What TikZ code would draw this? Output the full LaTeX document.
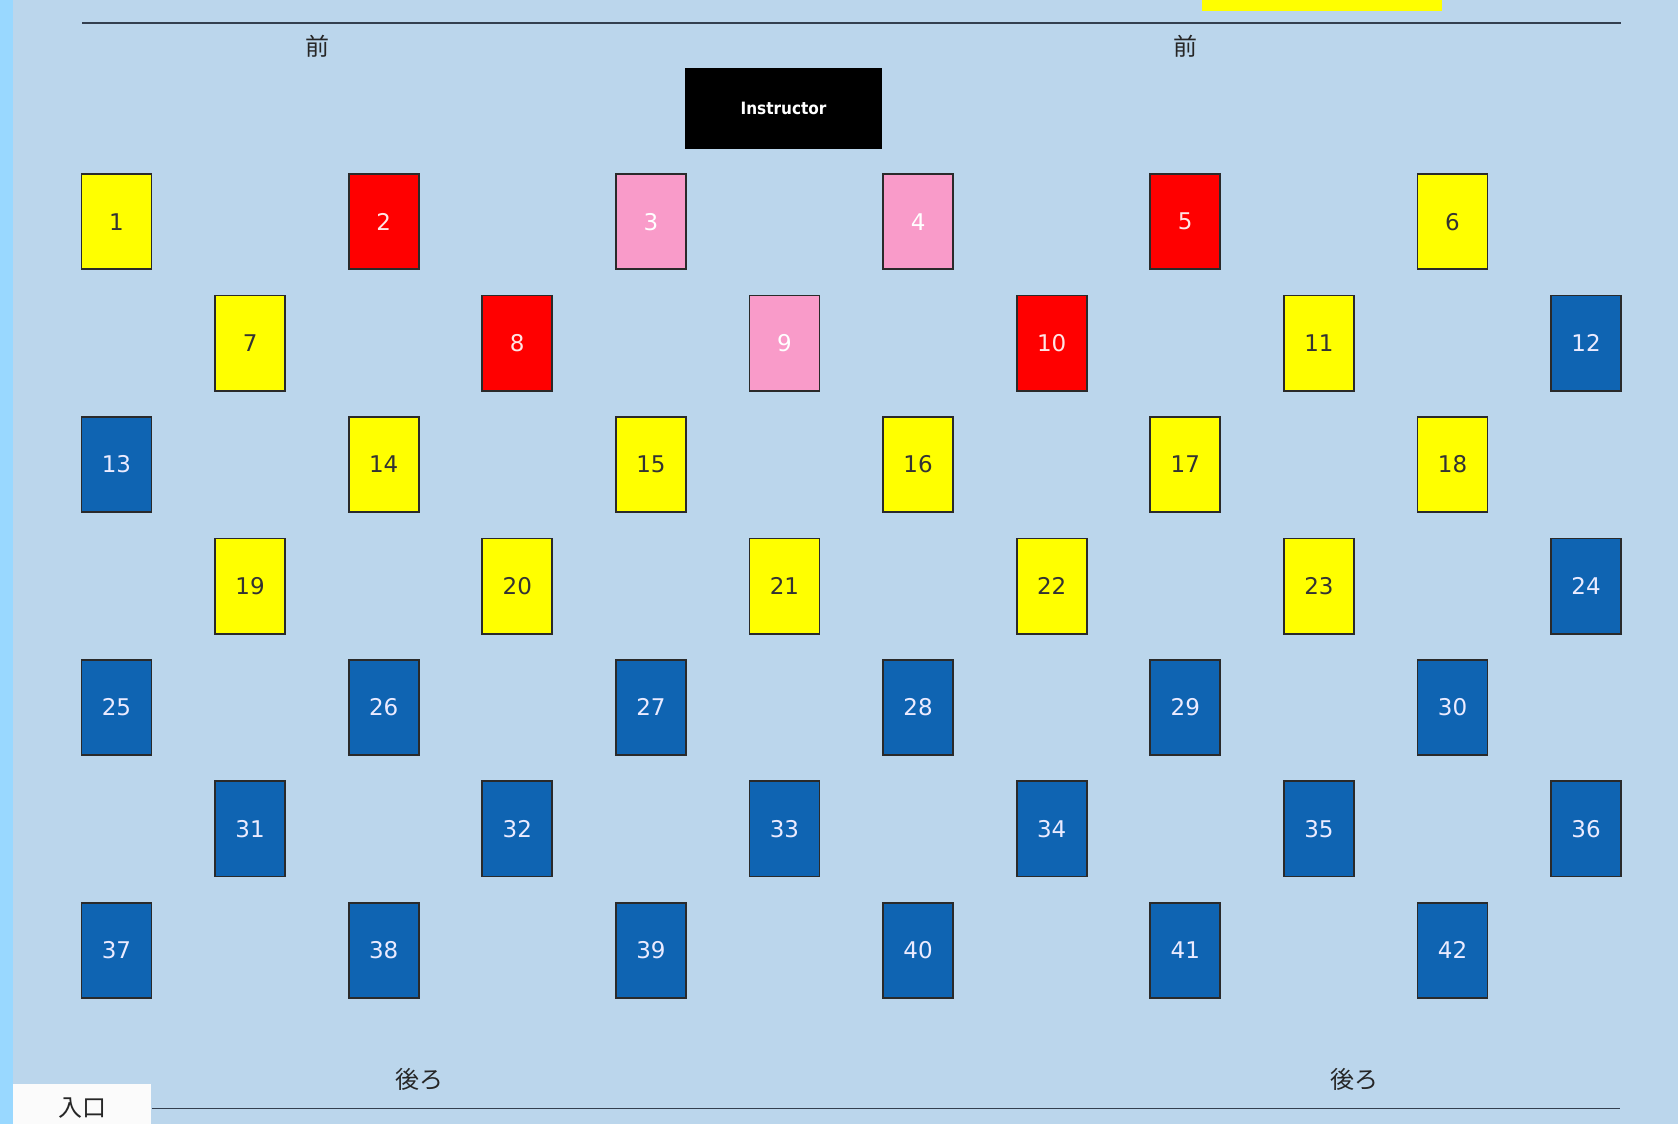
\documentclass[tikz,border=0pt]{standalone}
\usepackage{fontspec}
\setmainfont{DejaVu Sans}
\newfontfamily\cjk{Noto Sans CJK JP}
\newfontfamily\condfont{DejaVu Sans Condensed}
\definecolor{bgblue}{HTML}{BBD6EC}
\definecolor{stripblue}{HTML}{99D8FF}
\definecolor{seatyellow}{HTML}{FFFF00}
\definecolor{seatred}{HTML}{FF0000}
\definecolor{seatpink}{HTML}{F99BC9}
\definecolor{seatblue}{HTML}{0F64B2}
\definecolor{edgegray}{HTML}{2A2A2A}
\definecolor{linegray}{HTML}{333F4F}
\tikzset{
  x=0.5pt, y=-0.5pt,
  seat/.style={draw=edgegray, line width=0.9pt, minimum width=35pt, minimum height=47.6pt, inner sep=0pt, font=\fontsize{11.5}{14}\selectfont},
  seatY/.style={seat, fill=seatyellow, text=black!80},
  seatR/.style={seat, fill=seatred, text=white!90!red},
  seatP/.style={seat, fill=seatpink, text=white},
  seatB/.style={seat, fill=seatblue, text=white!92!blue},
  jlabel/.style={font=\cjk\fontsize{12}{14}\selectfont, text=black!85, inner sep=0pt},
}
\begin{document}
\begin{tikzpicture}
\useasboundingbox (0,0) rectangle (1678,1124);
\fill[bgblue] (0,0) rectangle (1678,1124);
\fill[stripblue] (0,0) rectangle (13,1124);
\fill[seatyellow] (1202,0) rectangle (1442,11);
\draw[linegray, line width=1pt] (82,23.3) -- (1621,23.3);
\draw[linegray, line width=0.8pt] (152,1108.5) -- (1620,1108.5);
\fill[white!97!gray] (13,1084) rectangle (151,1124);
\node[jlabel] (entrance) at (82,1108) {入口};
\node[jlabel] (front1) at (317,46) {前};
\node[jlabel] (front2) at (1185,46) {前};
\node[jlabel] (back1) at (419,1079) {後ろ};
\node[jlabel] (back2) at (1354,1079) {後ろ};
\node[fill=black, minimum width=98.5pt, minimum height=40.5pt, inner sep=0pt, text=white, font=\condfont\bfseries\fontsize{8.5}{10}\selectfont] (instructor) at (783.5,108.5) {Instructor};
\foreach \n/\c in {1/Y,2/R,3/P,4/P,5/R,6/Y,
                   7/Y,8/R,9/P,10/R,11/Y,12/B,
                   13/B,14/Y,15/Y,16/Y,17/Y,18/Y,
                   19/Y,20/Y,21/Y,22/Y,23/Y,24/B,
                   25/B,26/B,27/B,28/B,29/B,30/B,
                   31/B,32/B,33/B,34/B,35/B,36/B,
                   37/B,38/B,39/B,40/B,41/B,42/B}{
  \pgfmathtruncatemacro{\r}{(\n-1)/6}
  \pgfmathtruncatemacro{\k}{\n-1-6*\r}
  \pgfmathtruncatemacro{\col}{2*\k+mod(\r,2)}
  \node[seat\c] (s\n) at ({116.5+133.6*\col},{221.65+121.45*\r}) {\n};
}
\end{tikzpicture}
\end{document}
